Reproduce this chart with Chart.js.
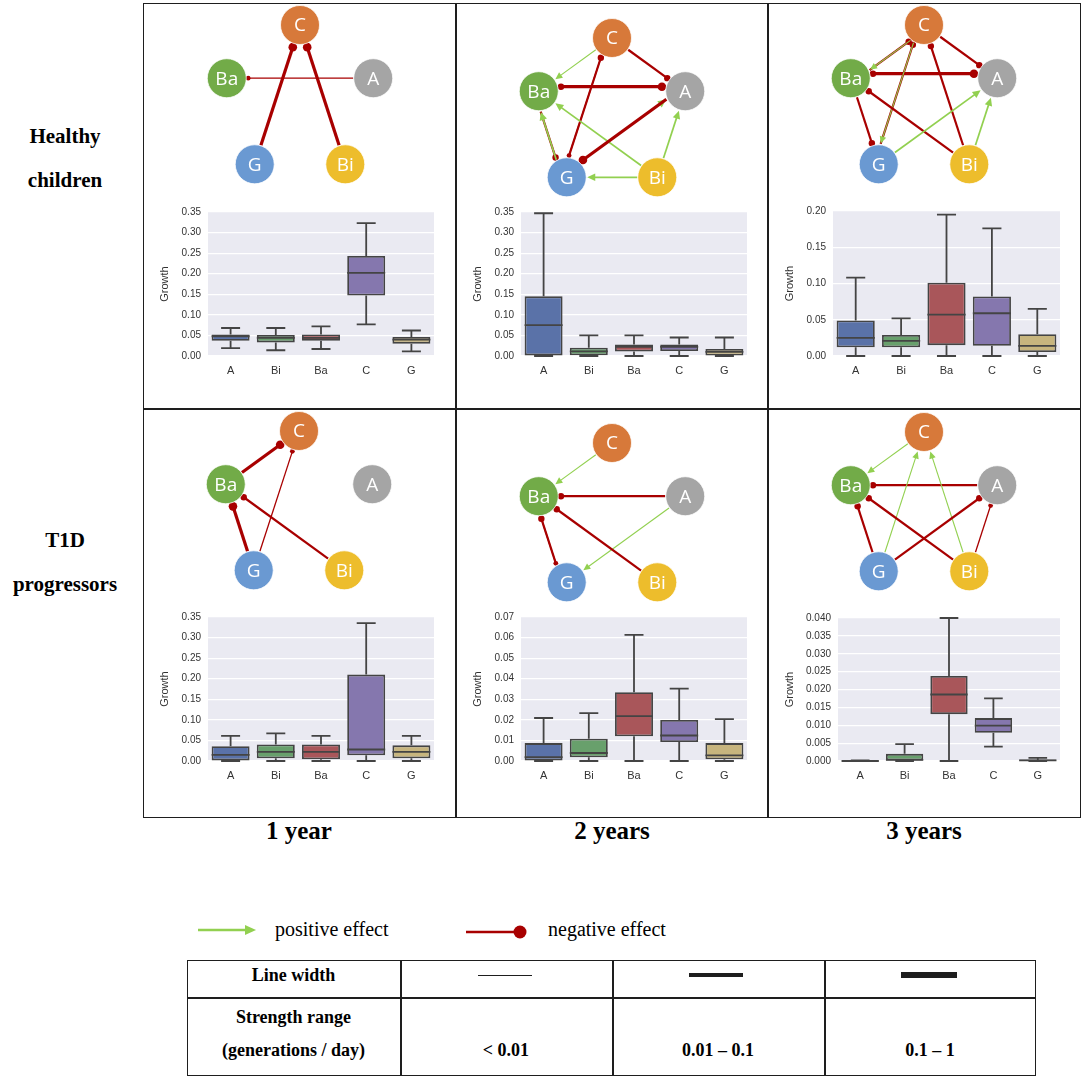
<!DOCTYPE html>
<html lang="en">

<head>
    <meta charset="UTF-8">
    <title>Growth and interaction networks</title>
    <script src="https://cdn.jsdelivr.net/npm/chart.js"></script>
    <style>
        body {
            margin: 0;
            width: 1084px;
            height: 1078px;
            position: relative;
            background: #fff;
            font-family: 'Liberation Serif', 'Times New Roman', serif;
            overflow: hidden;
        }

        .abs {
            position: absolute;
        }

        .line {
            position: absolute;
            background: #1e1e1e;
        }

        .rowlabel {
            position: absolute;
            width: 130px;
            left: 0;
            text-align: center;
            font-weight: bold;
            font-size: 21px;
            line-height: 44px;
        }

        .collabel {
            position: absolute;
            width: 200px;
            text-align: center;
            font-weight: bold;
            font-size: 25px;
            top: 817px;
        }

        .cell {
            position: absolute;
            text-align: center;
            font-weight: bold;
            font-size: 18px;
        }
    </style>
</head>

<body>
    <!-- panel grid -->
    <div class="abs" style="left:143px;top:3px;width:938px;height:815px;border:1.5px solid #1e1e1e;box-sizing:border-box;"></div>
    <div class="line" style="left:455px;top:3px;width:1.5px;height:815px;"></div>
    <div class="line" style="left:767px;top:3px;width:1.5px;height:815px;"></div>
    <div class="line" style="left:143px;top:408px;width:938px;height:1.5px;"></div>

    <div class="rowlabel" style="top:114px;">Healthy<br>children</div>
    <div class="rowlabel" style="top:518px;">T1D<br>progressors</div>

    <div class="collabel" style="left:199px;">1 year</div>
    <div class="collabel" style="left:512px;">2 years</div>
    <div class="collabel" style="left:824px;">3 years</div>

    <!-- networks -->
    <canvas id="netH1" class="abs"></canvas>
    <canvas id="netH2" class="abs"></canvas>
    <canvas id="netH3" class="abs"></canvas>
    <canvas id="netT1" class="abs"></canvas>
    <canvas id="netT2" class="abs"></canvas>
    <canvas id="netT3" class="abs"></canvas>

    <!-- box plots -->
    <canvas id="boxH1" class="abs"></canvas>
    <canvas id="boxH2" class="abs"></canvas>
    <canvas id="boxH3" class="abs"></canvas>
    <canvas id="boxT1" class="abs"></canvas>
    <canvas id="boxT2" class="abs"></canvas>
    <canvas id="boxT3" class="abs"></canvas>

    <!-- legend -->
    <svg class="abs" style="left:190px;top:915px;" width="520" height="32">
        <line x1="8" y1="15" x2="58" y2="15" stroke="#92D050" stroke-width="2.5" />
        <polygon points="66,15 55,10 55,20" fill="#92D050" />
        <line x1="276" y1="17" x2="326" y2="17" stroke="#A80000" stroke-width="2.5" />
        <circle cx="330" cy="17" r="6.5" fill="#A80000" />
    </svg>
    <div class="abs" style="left:275px;top:918px;font-size:20px;">positive effect</div>
    <div class="abs" style="left:548px;top:918px;font-size:20px;">negative effect</div>

    <!-- line width table -->
    <div class="abs" style="left:187px;top:960px;width:849px;height:116px;border:1.5px solid #1e1e1e;box-sizing:border-box;"></div>
    <div class="line" style="left:187px;top:997px;width:849px;height:1.5px;"></div>
    <div class="line" style="left:400px;top:960px;width:1.5px;height:116px;"></div>
    <div class="line" style="left:612px;top:960px;width:1.5px;height:116px;"></div>
    <div class="line" style="left:824px;top:960px;width:1.5px;height:116px;"></div>
    <div class="cell" style="left:187px;width:213px;top:965px;">Line width</div>
    <div class="line" style="left:478px;top:975px;width:54px;height:1px;"></div>
    <div class="line" style="left:689px;top:973px;width:54px;height:4px;"></div>
    <div class="line" style="left:901px;top:972px;width:56px;height:6px;"></div>
    <div class="cell" style="left:187px;width:213px;top:1007px;">Strength range</div>
    <div class="cell" style="left:187px;width:213px;top:1040px;">(generations / day)</div>
    <div class="cell" style="left:400px;width:212px;top:1040px;">&lt; 0.01</div>
    <div class="cell" style="left:612px;width:212px;top:1040px;">0.01 – 0.1</div>
    <div class="cell" style="left:824px;width:212px;top:1040px;">0.1 – 1</div>

    <script>
        // categories on the box plot axis and network nodes
        const categories = ['A', 'Bi', 'Ba', 'C', 'G'];

        // box stats per panel: [low whisker, q1, median, q3, high whisker]
        const healthy1y = [[0.019, 0.037, 0.048, 0.0525, 0.068], [0.014, 0.033, 0.044, 0.051, 0.068], [0.017, 0.037, 0.044, 0.0525, 0.072], [0.077, 0.147, 0.202, 0.243, 0.323], [0.011, 0.030, 0.040, 0.046, 0.062]];
        const healthy2y = [[0, 0, 0.075, 0.145, 0.347], [0, 0.002, 0.011, 0.020, 0.050], [0, 0.011, 0.022, 0.028, 0.050], [0, 0.012, 0.022, 0.028, 0.045], [0, 0.001, 0.010, 0.017, 0.045]];
        const healthy3y = [[0, 0.012, 0.025, 0.049, 0.108], [0, 0.012, 0.021, 0.029, 0.052], [0, 0.015, 0.057, 0.101, 0.195], [0, 0.014, 0.059, 0.082, 0.176], [0, 0.0055, 0.014, 0.030, 0.065]];
        const t1d1y = [[0, 0, 0.015, 0.036, 0.061], [0, 0.0065, 0.022, 0.040, 0.067], [0, 0.004, 0.022, 0.040, 0.061], [0, 0.014, 0.028, 0.210, 0.335], [0, 0.0065, 0.022, 0.038, 0.061]];
        const t1d2y = [[0, 0, 0.0019, 0.0087, 0.0209], [0, 0.0018, 0.0039, 0.0108, 0.0233], [0, 0.012, 0.0218, 0.0334, 0.0613], [0, 0.0092, 0.0124, 0.0199, 0.0352], [0, 0.0008, 0.0027, 0.0087, 0.0204]];
        const t1d3y = [[0, 0, 0, 0.0002, 0.0002], [0, 0, 0.0003, 0.002, 0.0047], [0, 0.0131, 0.0186, 0.0238, 0.040], [0.004, 0.0079, 0.0099, 0.012, 0.0175], [0, 0, 0.0002, 0.0004, 0.0009]];

        // y axis max, step and decimals per panel
        const yMaxes = [0.35, 0.35, 0.20, 0.35, 0.07, 0.040];
        const ySteps = [0.05, 0.05, 0.05, 0.05, 0.01, 0.005];
        const yDecimals = [2, 2, 2, 2, 2, 3];

        // network edges: [from, to, sign (+1 positive / -1 negative), strength class 1..3]
        const edgesH1 = [['G', 'C', -1, 3], ['Bi', 'C', -1, 3], ['A', 'Ba', -1, 1]];
        const edgesH2 = [['C', 'Ba', 1, 1], ['C', 'A', -1, 2], ['A', 'Ba', -1, 2], ['Ba', 'A', -1, 3], ['G', 'C', -1, 2], ['C', 'G', -1, 1], ['Ba', 'G', -1, 2], ['G', 'Ba', 1, 2], ['Bi', 'Ba', 1, 2], ['G', 'A', 1, 2], ['A', 'G', -1, 3], ['Bi', 'A', 1, 2], ['Bi', 'G', 1, 2]];
        const edgesH3 = [['Ba', 'C', -1, 2], ['C', 'Ba', 1, 1], ['C', 'A', -1, 2], ['A', 'Ba', -1, 2], ['Ba', 'A', -1, 3], ['Ba', 'G', -1, 2], ['G', 'C', -1, 2], ['C', 'G', 1, 1], ['Bi', 'C', -1, 2], ['Bi', 'Ba', -1, 2], ['G', 'A', 1, 2], ['Bi', 'A', 1, 2]];
        const edgesT1 = [['Ba', 'C', -1, 3], ['G', 'C', -1, 1], ['G', 'Ba', -1, 3], ['Bi', 'Ba', -1, 2]];
        const edgesT2 = [['C', 'Ba', 1, 1], ['A', 'Ba', -1, 2], ['A', 'G', 1, 1], ['Ba', 'G', -1, 1], ['G', 'Ba', -1, 2], ['Bi', 'Ba', -1, 2]];
        const edgesT3 = [['C', 'Ba', 1, 1], ['A', 'Ba', -1, 2], ['G', 'C', 1, 1], ['Bi', 'C', 1, 1], ['G', 'Ba', -1, 2], ['Bi', 'Ba', -1, 2], ['G', 'A', -1, 2], ['Bi', 'A', -1, 1]];

        // node layout (pentagon, unit radius) and colours
        const nodeLayout = { A: [0.951, 0.309], Bi: [0.588, -0.809], Ba: [-0.951, 0.309], C: [0, 1], G: [-0.588, -0.809] };
        const nodeColors = { A: '#A5A5A5', Bi: '#EDBD2C', Ba: '#72AB48', C: '#D7793A', G: '#6A99D2' };
        const boxColors = ['#5A72A8', '#68A06C', '#A9565A', '#8577AE', '#C7B57E'];

        const RED = '#A80000', GREEN = '#92D050';
        const UNIT = 77, NODE_R = 19.5;
        const redWidths = [1.3, 2.2, 3.2], greenWidths = [1.1, 1.7, 2.4], dotRadii = [2.4, 3.2, 4.3];
        const TOP_SPACE = 13; // layout padding + half of the top tick label

        const boxPlugin = {
            id: 'boxes',
            beforeDraw(chart) {
                const a = chart.chartArea, ctx = chart.ctx;
                ctx.save();
                ctx.fillStyle = '#EAEAF2';
                ctx.fillRect(a.left, a.top, a.right - a.left, a.bottom - a.top);
                ctx.restore();
            },
            afterDatasetsDraw(chart) {
                const y = chart.scales.y, ctx = chart.ctx;
                const stats = chart.data.datasets[0].stats;
                ctx.save();
                ctx.strokeStyle = '#444';
                ctx.lineWidth = 1.8;
                chart.getDatasetMeta(0).data.forEach((bar, i) => {
                    const s = stats[i], x = bar.x, hw = bar.width / 2, cap = hw * 0.5;
                    const p = v => y.getPixelForValue(v);
                    ctx.beginPath();
                    ctx.moveTo(x, p(s[1])); ctx.lineTo(x, p(s[0]));
                    ctx.moveTo(x - cap, p(s[0])); ctx.lineTo(x + cap, p(s[0]));
                    ctx.moveTo(x, p(s[3])); ctx.lineTo(x, p(s[4]));
                    ctx.moveTo(x - cap, p(s[4])); ctx.lineTo(x + cap, p(s[4]));
                    ctx.moveTo(x - hw, p(s[2])); ctx.lineTo(x + hw, p(s[2]));
                    ctx.stroke();
                });
                ctx.restore();
            }
        };

        // plot area rect: left, top, width, height, y-axis width
        function boxChart(id, stats, k, plotLeft, plotTop, plotW, plotH, axisW) {
            const el = document.getElementById(id);
            const w = axisW + plotW + 6, h = TOP_SPACE + plotH + 24;
            el.width = w; el.height = h;
            el.style.left = (plotLeft - axisW) + 'px';
            el.style.top = (plotTop - TOP_SPACE) + 'px';
            el.style.width = w + 'px'; el.style.height = h + 'px';
            return new Chart(el, {
                type: 'bar',
                data: {
                    labels: categories,
                    datasets: [{
                        data: stats.map(s => [s[1], s[3]]),
                        stats: stats,
                        backgroundColor: boxColors,
                        borderColor: '#444',
                        borderWidth: 1.8,
                        borderSkipped: false,
                        barPercentage: 0.84,
                        categoryPercentage: 1
                    }]
                },
                options: {
                    responsive: false,
                    animation: false,
                    layout: { padding: { top: 6, right: 6, left: 0, bottom: 0 } },
                    plugins: { legend: { display: false }, tooltip: { enabled: false } },
                    scales: {
                        x: {
                            grid: { display: false },
                            border: { display: false },
                            ticks: { color: '#333', padding: 0, font: { size: 11, family: 'Liberation Sans' } },
                            afterFit: s => { s.height = 24; }
                        },
                        y: {
                            min: 0,
                            max: yMaxes[k],
                            grid: { color: '#fff', lineWidth: 1.2, drawTicks: false },
                            border: { display: false },
                            ticks: {
                                stepSize: ySteps[k], color: '#333', padding: 7,
                                font: { size: 10, family: 'Liberation Sans' },
                                callback: v => v.toFixed(yDecimals[k])
                            },
                            title: { display: true, text: 'Growth', color: '#333', padding: 0, font: { size: 11, family: 'Liberation Sans' } },
                            afterFit: s => { s.width = axisW; }
                        }
                    }
                },
                plugins: [boxPlugin]
            });
        }

        const netPlugin = {
            id: 'network',
            beforeDatasetsDraw(chart) {
                const ctx = chart.ctx;
                const pts = chart.getDatasetMeta(0).data;
                const edges = chart.data.datasets[0].edges;
                const at = n => pts[categories.indexOf(n)];
                ctx.save();
                ctx.lineCap = 'butt';
                edges.forEach(([from, to, sign, str]) => {
                    const a = at(from), b = at(to);
                    const len = Math.hypot(b.x - a.x, b.y - a.y);
                    const ux = (b.x - a.x) / len, uy = (b.y - a.y) / len;
                    let nx = 0, ny = 0;
                    if (edges.some(e => e[0] === to && e[1] === from)) {
                        const s = categories.indexOf(from) < categories.indexOf(to) ? 1 : -1;
                        nx = -uy * s * 4.5; ny = ux * s * 4.5;
                    }
                    const sx = a.x + ux * (NODE_R + 0.5) + nx, sy = a.y + uy * (NODE_R + 0.5) + ny;
                    if (sign > 0) {
                        const tx = b.x - ux * (NODE_R + 1) + nx, ty = b.y - uy * (NODE_R + 1) + ny;
                        const hl = 6 + str, hw = 2.8 + str * 0.5;
                        const bx = tx - ux * hl, by = ty - uy * hl;
                        ctx.strokeStyle = GREEN; ctx.fillStyle = GREEN;
                        ctx.lineWidth = greenWidths[str - 1];
                        ctx.beginPath(); ctx.moveTo(sx, sy); ctx.lineTo(bx + ux, by + uy); ctx.stroke();
                        ctx.beginPath();
                        ctx.moveTo(tx, ty);
                        ctx.lineTo(bx - uy * hw, by + ux * hw);
                        ctx.lineTo(bx + uy * hw, by - ux * hw);
                        ctx.closePath(); ctx.fill();
                    } else {
                        const dr = dotRadii[str - 1];
                        const cx = b.x - ux * (NODE_R + dr - 0.5) + nx, cy = b.y - uy * (NODE_R + dr - 0.5) + ny;
                        ctx.strokeStyle = RED; ctx.fillStyle = RED;
                        ctx.lineWidth = redWidths[str - 1];
                        ctx.beginPath(); ctx.moveTo(sx, sy); ctx.lineTo(cx, cy); ctx.stroke();
                        ctx.beginPath(); ctx.arc(cx, cy, dr, 0, Math.PI * 2); ctx.fill();
                    }
                });
                ctx.restore();
            },
            afterDatasetsDraw(chart) {
                const ctx = chart.ctx;
                ctx.save();
                ctx.fillStyle = '#fff';
                ctx.font = '19px "Open Sans"';
                ctx.textAlign = 'center';
                ctx.textBaseline = 'middle';
                chart.getDatasetMeta(0).data.forEach((p, i) => {
                    ctx.fillText(categories[i], p.x, p.y + 1);
                });
                ctx.restore();
            }
        };

        // centre of the pentagon on the page
        function netChart(id, edges, cx, cy) {
            const el = document.getElementById(id);
            const w = 250, h = 200, topOff = 100;
            el.width = w; el.height = h;
            el.style.left = (cx - w / 2) + 'px';
            el.style.top = (cy - topOff) + 'px';
            el.style.width = w + 'px'; el.style.height = h + 'px';
            return new Chart(el, {
                type: 'scatter',
                data: {
                    datasets: [{
                        data: categories.map(n => ({ x: nodeLayout[n][0], y: nodeLayout[n][1] })),
                        edges: edges,
                        pointRadius: NODE_R,
                        pointBackgroundColor: categories.map(n => nodeColors[n]),
                        pointBorderColor: 'rgba(255,255,255,0.75)',
                        pointBorderWidth: 1,
                        clip: false
                    }]
                },
                options: {
                    responsive: false,
                    animation: false,
                    layout: { padding: 0, autoPadding: false },
                    plugins: { legend: { display: false }, tooltip: { enabled: false } },
                    scales: {
                        x: { display: false, min: -w / 2 / UNIT, max: w / 2 / UNIT },
                        y: { display: false, min: -(h - topOff) / UNIT, max: topOff / UNIT }
                    }
                },
                plugins: [netPlugin]
            });
        }

        netChart('netH1', edgesH1, 300, 102);
        netChart('netH2', edgesH2, 612, 115);
        netChart('netH3', edgesH3, 924, 102);
        netChart('netT1', edgesT1, 299, 508);
        netChart('netT2', edgesT2, 612, 520);
        netChart('netT3', edgesT3, 924, 509);

        boxChart('boxH1', healthy1y, 0, 208, 212, 226, 144, 50);
        boxChart('boxH2', healthy2y, 1, 521, 212, 226, 144, 50);
        boxChart('boxH3', healthy3y, 2, 833, 211, 227, 145, 50);
        boxChart('boxT1', t1d1y, 3, 208, 617, 226, 144, 50);
        boxChart('boxT2', t1d2y, 4, 521, 617, 226, 144, 50);
        boxChart('boxT3', t1d3y, 5, 838, 618, 222, 143, 55);
    </script>
</body>

</html>
